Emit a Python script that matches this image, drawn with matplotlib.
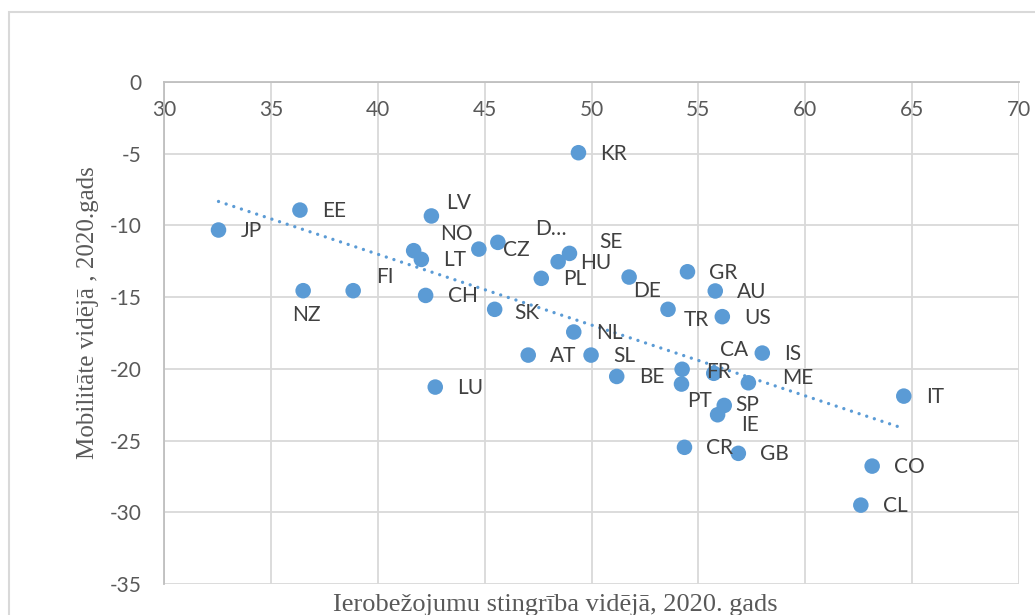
import numpy as np
import matplotlib
matplotlib.use('Agg')
import matplotlib.pyplot as plt
from matplotlib.patches import Rectangle

plt.rcParams['axes.unicode_minus'] = False

countries = ['JP', 'EE', 'NZ', 'FI', 'LV', 'NO', 'LT', 'D…', 'CZ', 'CH', 'LU', 'SK', 'AT', 'PL',
             'HU', 'SE', 'KR', 'NL', 'SL', 'BE', 'DE', 'TR', 'GR', 'CA', 'PT', 'FR', 'AU', 'US',
             'IE', 'SP', 'ME', 'IS', 'CR', 'GB', 'CO', 'CL', 'IT']
stringency = [32.55, 36.36, 36.51, 38.85, 42.51, 41.68, 42.04, 44.73, 45.62, 42.24, 42.69, 45.47,
              47.04, 47.65, 48.44, 48.97, 49.39, 49.17, 49.98, 51.18, 51.76, 53.58, 54.49, 54.24,
              54.21, 55.72, 55.79, 56.12, 55.90, 56.21, 57.34, 57.99, 54.35, 56.87, 63.13, 62.60,
              64.61]
mobility = [-10.32, -8.93, -14.55, -14.55, -9.34, -11.76, -12.37, -11.65, -11.18, -14.88, -21.27,
            -15.85, -19.04, -13.69, -12.53, -11.95, -4.93, -17.43, -19.04, -20.53, -13.60, -15.85,
            -13.23, -20.03, -21.06, -20.31, -14.57, -16.36, -23.20, -22.55, -20.97, -18.90, -25.47,
            -25.89, -26.78, -29.50, -21.90]

x_ticks = [30, 35, 40, 45, 50, 55, 60, 65, 70]
y_ticks = [0, -5, -10, -15, -20, -25, -30, -35]

x_title = 'Ierobežojumu stingrība vidējā, 2020. gads'
y_title = 'Mobilitāte vidējā , 2020.gads'

# label offsets in pixels (dx right, dy down), default is right of the point
label_off = {'NZ': (-11, 24), 'FI': (23, -14), 'LV': (15, -13), 'NO': (26, -17), 'D…': (56, -20),
             'CZ': (5, 8), 'SE': (30, -11), 'DE': (4, 14), 'TR': (16, 11), 'SK': (20, 4),
             'CA': (38, -19), 'FR': (-8, -1), 'ME': (34, -5), 'PT': (6, 17), 'SP': (11, 0),
             'IE': (24, 10)}

blue = '#5B9BD5'
W, H = 1035, 615

fig = plt.figure(figsize=(W / 100, H / 100), dpi=100)
ax = fig.add_axes([164 / W, 1 - 584 / H, (1019 - 164) / W, (584 - 82) / H])

# chart area border
fig.patches.append(Rectangle((9 / W, -0.2), 2, 1 - 12 / H + 0.2, transform=fig.transFigure,
                             fill=False, edgecolor='#d9d9d9', lw=1.5))

ax.set_xlim(30, 70)
ax.set_ylim(-35, 0)
ax.set_xticks(x_ticks)
ax.set_yticks(y_ticks)
ax.grid(True, color='#d9d9d9', lw=1.3, zorder=0)
ax.set_axisbelow(True)

for s in ['top', 'right']:
    ax.spines[s].set_visible(False)
ax.spines['bottom'].set_position(('data', 0))
ax.spines['bottom'].set_color('#bfbfbf')
ax.spines['left'].set_color('#bfbfbf')
ax.spines['bottom'].set_linewidth(1.3)
ax.spines['left'].set_linewidth(1.3)

ax.tick_params(axis='both', length=0, colors='#595959', labelsize=15)
ax.tick_params(axis='x', pad=13)
ax.tick_params(axis='y', pad=16)
for lab in ax.get_xticklabels() + ax.get_yticklabels():
    lab.set_family(['Lato', 'DejaVu Sans'])

ax.scatter(stringency, mobility, s=125, color=blue, edgecolors='none', zorder=3)

# linear trend line
coef = np.polyfit(stringency, mobility, 1)
xs = np.array([min(stringency), max(stringency)])
ax.plot(xs, np.polyval(coef, xs), color=blue, lw=2.4, linestyle=(0, (0.01, 2.4)),
        dash_capstyle='round', zorder=2)

for name, x, y in zip(countries, stringency, mobility):
    dx, dy = label_off.get(name, (22, 1))
    ax.annotate(name, (x, y), xytext=(dx * 0.72, -dy * 0.72), textcoords='offset points',
                ha='left', va='center', color='#404040', fontsize=15,
                family=['Lato', 'DejaVu Sans'], zorder=4)

fig.text(88 / W, 1 - 313 / H, y_title, rotation=90, ha='center', va='center',
         family=['Liberation Serif', 'DejaVu Serif'], fontsize=18, color='#595959')
fig.text(555 / W, 1 - 611 / H, x_title, ha='center', va='baseline',
         family=['Liberation Serif', 'DejaVu Serif'], fontsize=19, color='#595959')

fig.savefig('out.png', dpi=100)
